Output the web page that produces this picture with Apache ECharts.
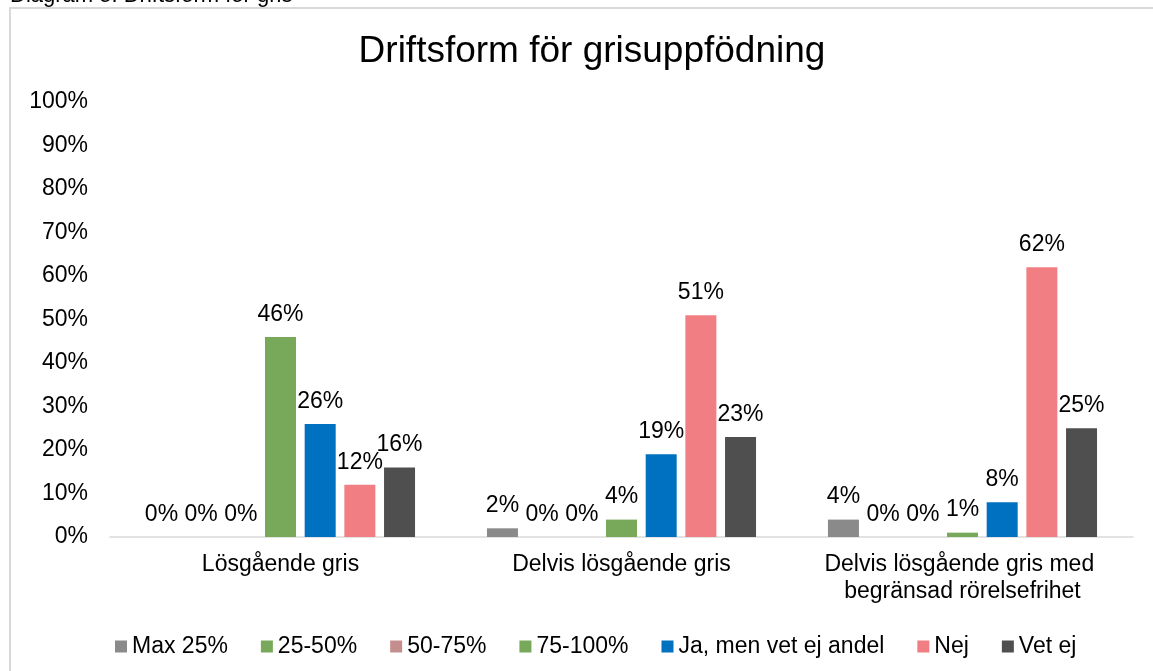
<!doctype html>
<html lang="sv">
<head>
    <meta charset="UTF-8">
    <title>Driftsform för grisuppfödning</title>
    <style>
        * {
            margin: 0;
            padding: 0;
        }

        body {
            background: #ffffff;
        }

        #chart {
            width: 1153px;
            height: 671px;
        }
    </style>
</head>
<body>
<script src="https://cdn.jsdelivr.net/npm/echarts@6/dist/echarts.min.js"></script>
<div id="chart"></div>

<script type="application/javascript">
    // kategorier och värden (procent)
    const categories = [
        'Lösgående gris',
        'Delvis lösgående gris',
        'Delvis lösgående gris med begränsad rörelsefrihet'
    ];
    const seriesNames = ['Max 25%', '25-50%', '50-75%', '75-100%', 'Ja, men vet ej andel', 'Nej', 'Vet ej'];
    const max25 = [0, 2, 4];
    const p25to50 = [0, 0, 0];
    const p50to75 = [0, 0, 0];
    const p75to100 = [46, 4, 1];
    const jaVetEj = [26, 19, 8];
    const nej = [12, 51, 62];
    const vetEj = [16, 23, 25];
    const yTicks = [0, 10, 20, 30, 40, 50, 60, 70, 80, 90, 100];

    const colors = ['#8a8a8a', '#78a95b', '#c48e8e', '#78a95b', '#0070c0', '#f07e82', '#4f4f4f'];
    const values = [max25, p25to50, p50to75, p75to100, jaVetEj, nej, vetEj];

    const font = 'Liberation Sans, Arial, sans-serif';

    const makeSeries = function () {
        return seriesNames.map(function (name, i) {
            return {
                name: name,
                type: 'bar',
                data: values[i],
                barWidth: 31,
                barGap: '28%',
                itemStyle: {
                    color: colors[i]
                },
                label: {
                    show: true,
                    position: 'top',
                    distance: 11,
                    formatter: '{c}%',
                    color: '#000',
                    fontSize: 23,
                    fontFamily: font
                }
            };
        });
    };

    const chart = echarts.init(document.getElementById('chart'));

    const option = {
        animation: false,
        backgroundColor: '#fff',
        title: {
            text: 'Driftsform för grisuppfödning',
            left: 587,
            textAlign: 'center',
            top: 28,
            textStyle: {
                fontSize: 37,
                fontWeight: 'normal',
                color: '#000',
                fontFamily: font
            }
        },
        graphic: [
            {
                type: 'rect',
                shape: {x: 10, y: 8, width: 1160, height: 700},
                style: {fill: 'none', stroke: '#d9d9d9', lineWidth: 2},
                silent: true
            },
            {
                type: 'text',
                x: 10,
                y: -4,
                style: {
                    text: 'Diagram 5. Driftsform för gris',
                    fontSize: 22,
                    fontFamily: font,
                    fill: '#000',
                    verticalAlign: 'middle'
                }
            }
        ],
        legend: {
            data: seriesNames,
            left: 110,
            top: 630,
            icon: 'rect',
            itemWidth: 12,
            itemHeight: 12,
            itemGap: 33,
            textStyle: {
                fontSize: 23,
                color: '#000',
                fontFamily: font
            }
        },
        grid: {
            left: 110,
            right: 20,
            top: 102,
            bottom: 134,
            containLabel: false
        },
        xAxis: {
            type: 'category',
            data: categories,
            axisTick: {show: false},
            axisLine: {
                lineStyle: {color: '#d9d9d9', width: 1.5}
            },
            axisLabel: {
                interval: 0,
                margin: 14,
                color: '#000',
                fontSize: 23,
                fontFamily: font,
                lineHeight: 27,
                width: 310,
                overflow: 'break'
            }
        },
        yAxis: {
            type: 'value',
            min: yTicks[0],
            max: yTicks[yTicks.length - 1],
            interval: 10,
            splitLine: {show: false},
            axisLine: {show: false},
            axisTick: {show: false},
            axisLabel: {
                margin: 22,
                formatter: '{value}%',
                color: '#000',
                fontSize: 23,
                fontFamily: font
            }
        },
        series: makeSeries()
    };

    chart.setOption(option);
</script>
</body>
</html>
